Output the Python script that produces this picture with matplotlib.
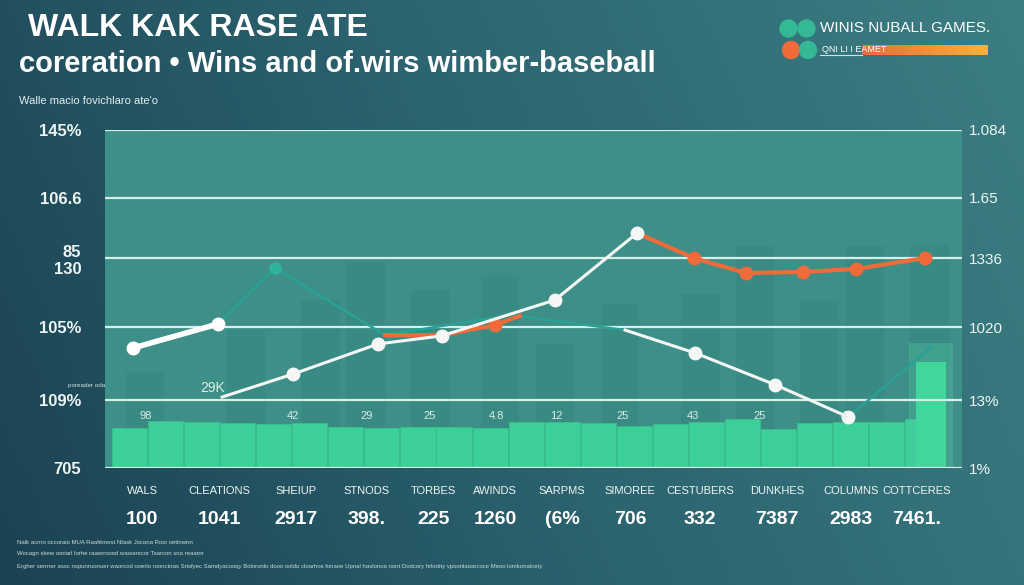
import numpy as np
import matplotlib.pyplot as plt
from matplotlib.colors import LinearSegmentedColormap

plt.rcParams['font.family'] = ['Liberation Sans', 'DejaVu Sans']

# ---- data (y on a 0-100 panel scale) ----
categories = ['WALS', 'CLEATIONS', 'SHEIUP', 'STNODS', 'TORBES', 'AWINDS',
              'SARPMS', 'SIMOREE', 'CESTUBERS', 'DUNKHES', 'COLUMNS', 'COTTCERES']
cat_values = ['100', '1041', '2917', '398.', '225', '1260',
              '(6%', '706', '332', '7387', '2983', '7461.']
cat_pos = [0, 1.10, 2.19, 3.19, 4.15, 5.03, 5.98, 6.95, 7.95, 9.04, 10.1, 11.03]

left_ticks = [0, 20.1, 41.7, 62.1, 79.9, 100]
left_labels = ['705', '109%', '105%', '85\n130', '106.6', '145%']
right_labels = ['1%', '13%', '1020', '1336', '1.65', '1.084']

# small green bars along the bottom
bar_x = np.linspace(-0.18, 11.12, 23)
bar_h = [11.8, 13.9, 13.6, 13.3, 13.0, 13.3, 12.1, 11.8, 12.1, 12.1, 11.8, 13.6,
         13.6, 13.3, 12.4, 13.0, 13.6, 14.5, 11.5, 13.3, 13.6, 13.6, 14.5]
hi_bar_x = [11.24]
hi_bar_h = [31.4]

# faint background bars
ghost_x = [0.04, 1.48, 2.54, 3.18, 4.11, 5.10, 5.88, 6.81, 7.95, 8.73, 9.65, 10.30, 11.22]
ghost_h = [28.4, 40.8, 49.7, 61.0, 52.7, 57.1, 36.7, 48.5, 51.5, 65.7, 49.7, 65.7, 66.0]

# lines
walk_x = [-0.13, 1.08]
walk_y = [35.5, 42.6]
teal_x = [1.08, 1.89, 3.46, 5.24, 6.88, np.nan, 10.06, 11.25]
teal_y = [42.6, 59.2, 39.3, 45.3, 40.8, np.nan, 15.1, 35.8]
wins_x = [1.14, 2.15, 3.36, 4.27, 5.88, 7.05]
wins_y = [21.0, 27.8, 36.7, 39.1, 49.7, 69.5]
loss_x = [6.88, 7.88, 9.02, 10.06]
loss_y = [40.8, 34.0, 24.6, 15.1]
orange_x = [3.46, 4.27, 5.03, 5.38, np.nan, 7.05, 7.86, 8.60, 9.42, 10.17, 11.15]
orange_y = [39.3, 39.3, 42.3, 45.0, np.nan, 69.5, 62.1, 57.7, 58.0, 58.9, 62.1]

fig = plt.figure(figsize=(10.24, 5.85), dpi=100)

# gradient background
bg = fig.add_axes([0, 0, 1, 1], zorder=-10)
cmap = LinearSegmentedColormap.from_list('bg', ['#1b4253', '#2c6470', '#3c7e82'])
gx, gy = np.meshgrid(np.linspace(0, 1, 300), np.linspace(0, 1, 200))
bg.imshow(0.8 * gx + 0.2 * (1 - gy), cmap=cmap, aspect='auto', extent=[0, 1, 0, 1])
bg.axis('off')

ax = fig.add_axes([0.1025, 0.2, 0.837, 0.5778])
ax.set_facecolor('#3d8f87')
ax.set_xlim(-0.53, 11.68)
ax.set_ylim(0, 100)

ax.bar(ghost_x, ghost_h, width=0.55, color='#2f7c76', alpha=0.25, zorder=1)
ax.bar(bar_x, bar_h, width=0.5, align='center', color='#3dcf98', zorder=2,
       edgecolor='#39bf8e', linewidth=0.6)
ax.bar(hi_bar_x, [37.0], width=0.62, color='#52c9a4', alpha=0.35, zorder=2)
ax.bar(hi_bar_x, hi_bar_h, width=0.42, color='#40d69c', zorder=2)

for y in left_ticks:
    ax.axhline(y, color='#d6efe8', lw=1.6, zorder=3)

ax.plot(teal_x, teal_y, color='#2aa196', lw=1.8, zorder=4)
ax.plot([1.89], [59.2], 'o', color='#2fb39a', ms=8, zorder=5)
ax.plot(orange_x, orange_y, color='#f06a3a', lw=3, zorder=5,
        marker='o', markevery=[2, 6, 7, 8, 9, 10], ms=9)
ax.plot(walk_x, walk_y, color='white', lw=4, zorder=6, marker='o', ms=9)
ax.plot(wins_x, wins_y, color='#f4f7f5', lw=2.2, zorder=6,
        marker='o', markevery=[1, 2, 3, 4, 5], ms=9)
ax.plot(loss_x, loss_y, color='#f4f7f5', lw=2.2, zorder=6,
        marker='o', markevery=[1, 2, 3], ms=9)

# small numbers on the bars
small = [(0.05, '98'), (1.0, '29K'), (2.15, '42'), (3.2, '29'), (4.1, '25'),
         (5.05, '4.8'), (5.9, '12'), (6.85, '25'), (7.85, '43'), (8.8, '25'), (10.0, '4')]
for x, t in small:
    yy = 21.5 if t == '29K' else 14.0
    fs = 10 if t == '29K' else 8
    ax.text(x, yy, t, color='#d8efe9', fontsize=fs, ha='center', va='bottom', zorder=7)

for s in ax.spines.values():
    s.set_visible(False)
ax.tick_params(length=0)
ax.set_xticks([])
ax.set_yticks(left_ticks)
ax.set_yticklabels(left_labels, color='#eef5f3', fontsize=12, fontweight='bold')
ax.tick_params(axis='y', pad=17)

ax2 = ax.twinx()
ax2.set_ylim(0, 100)
ax2.set_yticks(left_ticks)
ax2.set_yticklabels(right_labels, color='#eef5f3', fontsize=11)
ax2.tick_params(length=0, pad=5)
for s in ax2.spines.values():
    s.set_visible(False)

# category labels under the panel
tr = ax.get_xaxis_transform()
for x, name, val in zip(cat_pos, categories, cat_values):
    ax.text(x, -0.068, name, transform=tr, ha='center', va='center',
            color='#eef5f3', fontsize=8)
    ax.text(x, -0.152, val, transform=tr, ha='center', va='center',
            color='white', fontsize=14, fontweight='bold')
ax.text(-0.53, 0.245, 'poreader oda', transform=tr, ha='right', va='center',
        color='#cfe3e0', fontsize=4.5)

# titles
fig.text(0.027, 0.952, 'WALK KAK RASE ATE', color='white', fontsize=23,
         fontweight='bold', va='center')
fig.text(0.019, 0.89, 'coreration \u2022 Wins and of.wirs wimber-baseball',
         color='white', fontsize=21, fontweight='bold', va='center')
fig.text(0.019, 0.828, "Walle macio fovichlaro ate'o", color='#e3eeee', fontsize=8,
         va='center')

# legend, top right (axes units = pixels from x=768, y=0 at top)
lg = fig.add_axes([0.75, 1 - 70 / 585, 0.25, 70 / 585])
lg.axis('off')
lg.scatter([20, 38], [28, 28], s=150, color='#34b896')
lg.scatter([23, 40], [50, 50], s=150, color=['#f06a3a', '#34b896'])
lg.text(52, 28, 'WINIS NUBALL GAMES.', color='white', fontsize=11, va='center')
grad = np.linspace(0, 1, 100).reshape(1, -1)
lg.imshow(grad, extent=[94, 220, 55, 45],
          cmap=LinearSegmentedColormap.from_list('lg', ['#f06a3a', '#f6b23a']),
          aspect='auto')
lg.plot([52, 94], [55, 55], color='#cfe3e0', lw=0.8)
lg.text(54, 50, 'QNI LI I EAMET', color='white', fontsize=6.5, va='center')
lg.set_xlim(0, 256)
lg.set_ylim(70, 0)

# footer fine print
foot = ['Nalk acrno occoraio MUA Raaf\u00e9mest Nlask Jocona Rost oetinwnn',
        'Wocagn skew ooriarl lorhe raaerroood wawarecor Tsarcon sna reaator',
        'Ergher serrner assc nspunruonuer waorcod ooerlo roonctnas Srisfyec '
        'Samdyacooqy Boloronlo dooo ooldu cloarhos fonaoe Upnal hav'
        'lonoa nont Dodcory hrkotity vpoonlaoarcoce Meoo lomlumalcety']
for y, t in zip([0.072, 0.053, 0.031], foot):
    fig.text(0.017, y, t, color='#c9dbdc', fontsize=4.3, va='center')

fig.savefig('out.png', dpi=100)
